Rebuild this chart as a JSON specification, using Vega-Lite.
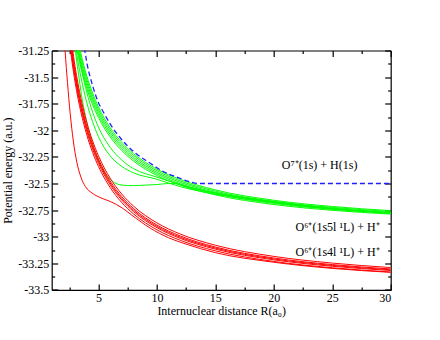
{
  "$schema": "https://vega.github.io/schema/vega-lite/v6.json",
  "width": 339,
  "height": 239.4,
  "autosize": "none",
  "padding": {"left": 51.7, "top": 50.5, "right": 49, "bottom": 50},
  "background": "white",
  "config": {
    "view": {"stroke": null},
    "axis": {"grid": false, "domainColor": "#000000", "tickColor": "#000000", "labelColor": "#000000", "titleColor": "#000000", "labelFont": "Liberation Serif", "titleFont": "Liberation Serif", "labelFontSize": 12, "titleFontSize": 12, "titleFontWeight": "normal", "domainWidth": 1.2, "tickWidth": 1.2}
  },
  "datasets": {
    "green": [
      {"c": "G1", "R": 3.3, "E": -31.177}, {"c": "G1", "R": 3.5, "E": -31.279}, {"c": "G1", "R": 4, "E": -31.488}, {"c": "G1", "R": 4.5, "E": -31.65}, {"c": "G1", "R": 5, "E": -31.78}, {"c": "G1", "R": 6, "E": -31.975}, {"c": "G1", "R": 7, "E": -32.114}, {"c": "G1", "R": 8, "E": -32.219}, {"c": "G1", "R": 10, "E": -32.365}, {"c": "G1", "R": 12, "E": -32.4625}, {"c": "G1", "R": 15, "E": -32.56}, {"c": "G1", "R": 20, "E": -32.6575}, {"c": "G1", "R": 25, "E": -32.716}, {"c": "G1", "R": 30, "E": -32.755},
      {"c": "G2", "R": 3.3, "E": -31.213}, {"c": "G2", "R": 3.5, "E": -31.312}, {"c": "G2", "R": 4, "E": -31.5175}, {"c": "G2", "R": 4.5, "E": -31.677}, {"c": "G2", "R": 5, "E": -31.805}, {"c": "G2", "R": 6, "E": -31.997}, {"c": "G2", "R": 7, "E": -32.134}, {"c": "G2", "R": 8, "E": -32.236}, {"c": "G2", "R": 10, "E": -32.38}, {"c": "G2", "R": 12, "E": -32.476}, {"c": "G2", "R": 15, "E": -32.572}, {"c": "G2", "R": 20, "E": -32.6675}, {"c": "G2", "R": 25, "E": -32.725}, {"c": "G2", "R": 30, "E": -32.763},
      {"c": "G3", "R": 3.2, "E": -31.194}, {"c": "G3", "R": 3.5, "E": -31.346}, {"c": "G3", "R": 4, "E": -31.5475}, {"c": "G3", "R": 4.5, "E": -31.704}, {"c": "G3", "R": 5, "E": -31.83}, {"c": "G3", "R": 6, "E": -32.018}, {"c": "G3", "R": 7, "E": -32.153}, {"c": "G3", "R": 8, "E": -32.254}, {"c": "G3", "R": 10, "E": -32.395}, {"c": "G3", "R": 12, "E": -32.489}, {"c": "G3", "R": 15, "E": -32.583}, {"c": "G3", "R": 20, "E": -32.6775}, {"c": "G3", "R": 25, "E": -32.734}, {"c": "G3", "R": 30, "E": -32.772},
      {"c": "G4", "R": 3.2, "E": -31.231}, {"c": "G4", "R": 3.5, "E": -31.379}, {"c": "G4", "R": 4, "E": -31.5775}, {"c": "G4", "R": 4.5, "E": -31.732}, {"c": "G4", "R": 5, "E": -31.855}, {"c": "G4", "R": 6, "E": -32.04}, {"c": "G4", "R": 7, "E": -32.172}, {"c": "G4", "R": 8, "E": -32.271}, {"c": "G4", "R": 10, "E": -32.41}, {"c": "G4", "R": 12, "E": -32.5025}, {"c": "G4", "R": 15, "E": -32.595}, {"c": "G4", "R": 20, "E": -32.6875}, {"c": "G4", "R": 25, "E": -32.743}, {"c": "G4", "R": 30, "E": -32.78},
      {"c": "G5", "R": 3.1, "E": -31.212}, {"c": "G5", "R": 3.5, "E": -31.413}, {"c": "G5", "R": 4, "E": -31.6075}, {"c": "G5", "R": 4.5, "E": -31.759}, {"c": "G5", "R": 5, "E": -31.88}, {"c": "G5", "R": 6, "E": -32.062}, {"c": "G5", "R": 7, "E": -32.191}, {"c": "G5", "R": 8, "E": -32.289}, {"c": "G5", "R": 10, "E": -32.425}, {"c": "G5", "R": 12, "E": -32.516}, {"c": "G5", "R": 15, "E": -32.607}, {"c": "G5", "R": 20, "E": -32.6975}, {"c": "G5", "R": 25, "E": -32.752}, {"c": "G5", "R": 30, "E": -32.788},
      {"c": "G6", "R": 3.0, "E": -31.2}, {"c": "G6", "R": 3.5, "E": -31.5}, {"c": "G6", "R": 4, "E": -31.74}, {"c": "G6", "R": 4.5, "E": -31.92}, {"c": "G6", "R": 5, "E": -32.06}, {"c": "G6", "R": 6, "E": -32.24}, {"c": "G6", "R": 7, "E": -32.34}, {"c": "G6", "R": 8, "E": -32.4}, {"c": "G6", "R": 10, "E": -32.46}, {"c": "G6", "R": 12, "E": -32.53}, {"c": "G6", "R": 15, "E": -32.6}, {"c": "G6", "R": 20, "E": -32.68}, {"c": "G6", "R": 25, "E": -32.74}, {"c": "G6", "R": 30, "E": -32.78},
      {"c": "G7", "R": 3.2, "E": -31.2}, {"c": "G7", "R": 3.6, "E": -31.45}, {"c": "G7", "R": 4, "E": -31.64}, {"c": "G7", "R": 4.5, "E": -31.83}, {"c": "G7", "R": 5, "E": -31.97}, {"c": "G7", "R": 6, "E": -32.16}, {"c": "G7", "R": 7, "E": -32.28}, {"c": "G7", "R": 8, "E": -32.36}, {"c": "G7", "R": 10, "E": -32.44}, {"c": "G7", "R": 12, "E": -32.51}, {"c": "G7", "R": 15, "E": -32.59}, {"c": "G7", "R": 20, "E": -32.675}, {"c": "G7", "R": 25, "E": -32.735}, {"c": "G7", "R": 30, "E": -32.775},
      {"c": "G8", "R": 2.9, "E": -31.15}, {"c": "G8", "R": 3.2, "E": -31.4}, {"c": "G8", "R": 3.6, "E": -31.7}, {"c": "G8", "R": 4.0, "E": -31.92}, {"c": "G8", "R": 4.5, "E": -32.13}, {"c": "G8", "R": 5.0, "E": -32.28}, {"c": "G8", "R": 5.5, "E": -32.39}, {"c": "G8", "R": 6.0, "E": -32.46}, {"c": "G8", "R": 6.5, "E": -32.5}, {"c": "G8", "R": 7, "E": -32.515}, {"c": "G8", "R": 8, "E": -32.52}, {"c": "G8", "R": 9, "E": -32.515}, {"c": "G8", "R": 10, "E": -32.51}, {"c": "G8", "R": 11, "E": -32.5}, {"c": "G8", "R": 11.6, "E": -32.5}, {"c": "G8", "R": 12.2, "E": -32.52}, {"c": "G8", "R": 13, "E": -32.545}, {"c": "G8", "R": 14, "E": -32.57}, {"c": "G8", "R": 15, "E": -32.59}, {"c": "G8", "R": 20, "E": -32.67}, {"c": "G8", "R": 25, "E": -32.735}, {"c": "G8", "R": 30, "E": -32.775}
    ],
    "red": [
      {"c": "R1", "R": 2.5, "E": -30.98}, {"c": "R1", "R": 2.75, "E": -31.209}, {"c": "R1", "R": 3, "E": -31.4}, {"c": "R1", "R": 3.5, "E": -31.7}, {"c": "R1", "R": 4, "E": -31.925}, {"c": "R1", "R": 4.5, "E": -32.1}, {"c": "R1", "R": 5, "E": -32.24}, {"c": "R1", "R": 6, "E": -32.45}, {"c": "R1", "R": 7, "E": -32.6}, {"c": "R1", "R": 8, "E": -32.7125}, {"c": "R1", "R": 10, "E": -32.87}, {"c": "R1", "R": 12, "E": -32.975}, {"c": "R1", "R": 15, "E": -33.08}, {"c": "R1", "R": 20, "E": -33.185}, {"c": "R1", "R": 25, "E": -33.248}, {"c": "R1", "R": 30, "E": -33.29},
      {"c": "R2", "R": 2.5, "E": -31.03}, {"c": "R2", "R": 2.75, "E": -31.2555}, {"c": "R2", "R": 3, "E": -31.443}, {"c": "R2", "R": 3.5, "E": -31.739}, {"c": "R2", "R": 4, "E": -31.96}, {"c": "R2", "R": 4.5, "E": -32.132}, {"c": "R2", "R": 5, "E": -32.27}, {"c": "R2", "R": 6, "E": -32.477}, {"c": "R2", "R": 7, "E": -32.624}, {"c": "R2", "R": 8, "E": -32.735}, {"c": "R2", "R": 10, "E": -32.89}, {"c": "R2", "R": 12, "E": -32.993}, {"c": "R2", "R": 15, "E": -33.097}, {"c": "R2", "R": 20, "E": -33.2}, {"c": "R2", "R": 25, "E": -33.262}, {"c": "R2", "R": 30, "E": -33.303},
      {"c": "R3", "R": 2.5, "E": -31.067}, {"c": "R3", "R": 2.75, "E": -31.2895}, {"c": "R3", "R": 3, "E": -31.475}, {"c": "R3", "R": 3.5, "E": -31.766}, {"c": "R3", "R": 4, "E": -31.985}, {"c": "R3", "R": 4.5, "E": -32.155}, {"c": "R3", "R": 5, "E": -32.291}, {"c": "R3", "R": 6, "E": -32.495}, {"c": "R3", "R": 7, "E": -32.641}, {"c": "R3", "R": 8, "E": -32.75}, {"c": "R3", "R": 10, "E": -32.903}, {"c": "R3", "R": 12, "E": -33.005}, {"c": "R3", "R": 15, "E": -33.107}, {"c": "R3", "R": 20, "E": -33.209}, {"c": "R3", "R": 25, "E": -33.27}, {"c": "R3", "R": 30, "E": -33.311},
      {"c": "R4", "R": 2.5, "E": -31.1}, {"c": "R4", "R": 2.75, "E": -31.32}, {"c": "R4", "R": 3, "E": -31.503}, {"c": "R4", "R": 3.5, "E": -31.791}, {"c": "R4", "R": 4, "E": -32.0075}, {"c": "R4", "R": 4.5, "E": -32.176}, {"c": "R4", "R": 5, "E": -32.31}, {"c": "R4", "R": 6, "E": -32.512}, {"c": "R4", "R": 7, "E": -32.656}, {"c": "R4", "R": 8, "E": -32.764}, {"c": "R4", "R": 10, "E": -32.915}, {"c": "R4", "R": 12, "E": -33.016}, {"c": "R4", "R": 15, "E": -33.117}, {"c": "R4", "R": 20, "E": -33.2175}, {"c": "R4", "R": 25, "E": -33.278}, {"c": "R4", "R": 30, "E": -33.318},
      {"c": "R5", "R": 2.5, "E": -31.15}, {"c": "R5", "R": 2.75, "E": -31.366}, {"c": "R5", "R": 3, "E": -31.547}, {"c": "R5", "R": 3.5, "E": -31.83}, {"c": "R5", "R": 4, "E": -32.0425}, {"c": "R5", "R": 4.5, "E": -32.208}, {"c": "R5", "R": 5, "E": -32.34}, {"c": "R5", "R": 6, "E": -32.538}, {"c": "R5", "R": 7, "E": -32.68}, {"c": "R5", "R": 8, "E": -32.786}, {"c": "R5", "R": 10, "E": -32.935}, {"c": "R5", "R": 12, "E": -33.034}, {"c": "R5", "R": 15, "E": -33.133}, {"c": "R5", "R": 20, "E": -33.2325}, {"c": "R5", "R": 25, "E": -33.292}, {"c": "R5", "R": 30, "E": -33.332},
      {"c": "R6", "R": 2.0, "E": -31.0}, {"c": "R6", "R": 2.15, "E": -31.26}, {"c": "R6", "R": 2.35, "E": -31.55}, {"c": "R6", "R": 2.58, "E": -31.84}, {"c": "R6", "R": 2.85, "E": -32.1}, {"c": "R6", "R": 3.15, "E": -32.3}, {"c": "R6", "R": 3.5, "E": -32.44}, {"c": "R6", "R": 3.89, "E": -32.53}, {"c": "R6", "R": 4.46, "E": -32.59}, {"c": "R6", "R": 5.32, "E": -32.64}, {"c": "R6", "R": 6.03, "E": -32.67}, {"c": "R6", "R": 7.03, "E": -32.73}, {"c": "R6", "R": 7.88, "E": -32.8}, {"c": "R6", "R": 9.43, "E": -32.92}, {"c": "R6", "R": 11, "E": -33.01}, {"c": "R6", "R": 12.5, "E": -33.07}, {"c": "R6", "R": 15, "E": -33.15}, {"c": "R6", "R": 20, "E": -33.24}, {"c": "R6", "R": 25, "E": -33.298}, {"c": "R6", "R": 30, "E": -33.335}
    ],
    "blue": [
      {"R": 3.7, "E": -31.15}, {"R": 4.0, "E": -31.36}, {"R": 4.5, "E": -31.58}, {"R": 5, "E": -31.74}, {"R": 5.43, "E": -31.83}, {"R": 6, "E": -31.94}, {"R": 6.86, "E": -32.07}, {"R": 8, "E": -32.2}, {"R": 9.43, "E": -32.31}, {"R": 10.5, "E": -32.385}, {"R": 11.7, "E": -32.44}, {"R": 12.7, "E": -32.48}, {"R": 13.5, "E": -32.5}, {"R": 30, "E": -32.5}
    ],
    "labels": [
      {"t": "O⁷⁺(1s) + H(1s)", "R": 27.15, "E": -32.367},
      {"t": "O⁶⁺(1s5l ¹L) + H⁺", "R": 29.06, "E": -32.944},
      {"t": "O⁶⁺(1s4l ¹L) + H⁺", "R": 29.06, "E": -33.179}
    ]
  },
  "resolve": {"axis": {"x": "independent", "y": "independent"}},
  "layer": [
    {
      "data": {"name": "green"},
      "mark": {"type": "line", "color": "#00ff00", "strokeWidth": 1, "interpolate": "monotone", "clip": true},
      "encoding": {
        "x": {"field": "R", "type": "quantitative", "scale": {"domain": [1, 30], "nice": false, "zero": false},
          "axis": {"orient": "bottom", "values": [5, 10, 15, 20, 25, 30], "tickSize": -6, "labelPadding": 9, "title": "Internuclear distance R(a₀)", "titlePadding": 2}},
        "y": {"field": "E", "type": "quantitative", "scale": {"domain": [-33.5, -31.25], "nice": false, "zero": false},
          "axis": {"orient": "left", "values": [-31.25, -31.5, -31.75, -32, -32.25, -32.5, -32.75, -33, -33.25, -33.5], "labelExpr": "'' + datum.value", "tickSize": -6, "labelPadding": 9, "title": "Potential energy (a.u.)", "titlePadding": 3}},
        "detail": {"field": "c", "type": "nominal"},
        "order": {"field": "R", "type": "quantitative"}
      }
    },
    {
      "data": {"name": "red"},
      "mark": {"type": "line", "color": "#ff0000", "strokeWidth": 1, "interpolate": "monotone", "clip": true},
      "encoding": {
        "x": {"field": "R", "type": "quantitative", "scale": {"domain": [1, 30], "nice": false, "zero": false},
          "axis": {"orient": "bottom", "values": [2.5, 7.5, 12.5, 17.5, 22.5, 27.5], "tickSize": -3, "labels": false, "domain": false, "title": null}},
        "y": {"field": "E", "type": "quantitative", "scale": {"domain": [-33.5, -31.25], "nice": false, "zero": false},
          "axis": {"orient": "left", "values": [-31.375, -31.625, -31.875, -32.125, -32.375, -32.625, -32.875, -33.125, -33.375], "tickSize": -3, "labels": false, "domain": false, "title": null}},
        "detail": {"field": "c", "type": "nominal"},
        "order": {"field": "R", "type": "quantitative"}
      }
    },
    {
      "data": {"name": "blue"},
      "mark": {"type": "line", "color": "#1f1fff", "strokeWidth": 1.3, "strokeDash": [5, 3], "interpolate": "monotone", "clip": true},
      "encoding": {
        "x": {"field": "R", "type": "quantitative", "scale": {"domain": [1, 30], "nice": false, "zero": false},
          "axis": {"orient": "top", "values": [5, 10, 15, 20, 25, 30], "tickSize": -6, "labels": false, "title": null}},
        "y": {"field": "E", "type": "quantitative", "scale": {"domain": [-33.5, -31.25], "nice": false, "zero": false},
          "axis": {"orient": "right", "values": [-31.25, -31.5, -31.75, -32, -32.25, -32.5, -32.75, -33, -33.25, -33.5], "tickSize": -6, "labels": false, "title": null}},
        "order": {"field": "R", "type": "quantitative"}
      }
    },
    {
      "data": {"name": "labels"},
      "mark": {"type": "text", "align": "right", "baseline": "alphabetic", "font": "Liberation Serif", "fontSize": 12, "color": "#000000"},
      "encoding": {
        "x": {"field": "R", "type": "quantitative", "scale": {"domain": [1, 30], "nice": false, "zero": false},
          "axis": {"orient": "top", "values": [2.5, 7.5, 12.5, 17.5, 22.5, 27.5], "tickSize": -3, "labels": false, "domain": false, "title": null}},
        "y": {"field": "E", "type": "quantitative", "scale": {"domain": [-33.5, -31.25], "nice": false, "zero": false},
          "axis": {"orient": "right", "values": [-31.375, -31.625, -31.875, -32.125, -32.375, -32.625, -32.875, -33.125, -33.375], "tickSize": -3, "labels": false, "domain": false, "title": null}},
        "text": {"field": "t", "type": "nominal"}
      }
    }
  ]
}
